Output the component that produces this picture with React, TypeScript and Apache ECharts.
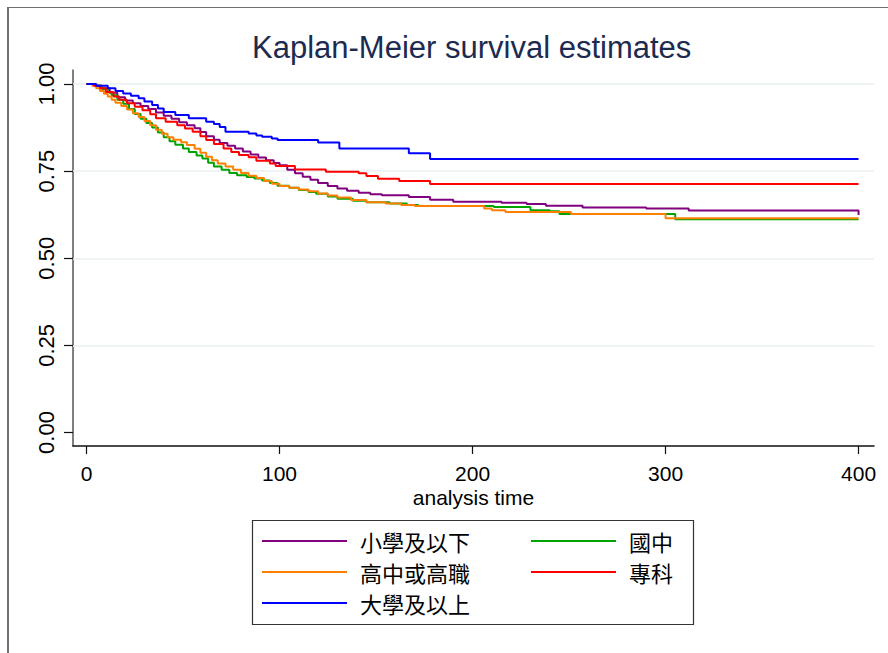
import React, { useEffect, useRef } from "react";
import * as echarts from "echarts";

const chartTitle = "Kaplan-Meier survival estimates";
const xAxisName = "analysis time";
const groupNames = ["小學及以下", "國中", "高中或高職", "專科", "大學及以上"];
const groupColors = ["#800080", "#00a400", "#ff8000", "#ff0000", "#0000ff"];
const legendCol1 = ["小學及以下", "高中或高職", "大學及以上"];
const legendCol2 = ["國中", "專科"];
const xTicks = [0, 100, 200, 300, 400];
const yTicks = [0, 0.25, 0.5, 0.75, 1];
const yGridValues = [0.25, 0.5, 0.75, 1];

// [analysis time, survival estimate]
const primaryOrLess = [
  [0, 1], [4, 0.995], [8, 0.988], [12, 0.975], [16, 0.962], [20, 0.953], [24, 0.945],
  [28, 0.937], [32, 0.928], [36, 0.918], [40, 0.909], [44, 0.9], [48, 0.89], [52, 0.882],
  [56, 0.873], [59, 0.862], [62, 0.85], [66, 0.84], [69, 0.831], [73, 0.823], [77, 0.815],
  [81, 0.806], [85, 0.798], [89, 0.789], [93, 0.781], [97, 0.773], [100, 0.767], [104, 0.754],
  [108, 0.744], [112, 0.734], [116, 0.725], [120, 0.716], [125, 0.707], [130, 0.7],
  [135, 0.694], [141, 0.688], [147, 0.684], [153, 0.681], [167, 0.676], [178, 0.668],
  [190, 0.662], [215, 0.659], [228, 0.656], [238, 0.651], [257, 0.646], [290, 0.643],
  [312, 0.637], [400, 0.624],
];
const juniorHigh = [
  [0, 1], [4, 0.995], [8, 0.986], [11, 0.976], [13, 0.968], [16, 0.955], [19, 0.943],
  [22, 0.928], [25, 0.914], [28, 0.9], [31, 0.888], [34, 0.875], [37, 0.861], [40, 0.847],
  [43, 0.836], [46, 0.826], [50, 0.815], [53, 0.805], [57, 0.795], [60, 0.786], [63, 0.774],
  [66, 0.763], [70, 0.754], [74, 0.745], [78, 0.738], [83, 0.733], [87, 0.729], [91, 0.723],
  [95, 0.716], [99, 0.708], [105, 0.702], [110, 0.696], [115, 0.69], [119, 0.685],
  [125, 0.677], [130, 0.671], [138, 0.665], [145, 0.661], [157, 0.657], [166, 0.653],
  [172, 0.65], [211, 0.647], [230, 0.638], [240, 0.635], [245, 0.627], [305, 0.612],
  [400, 0.612],
];
const seniorHigh = [
  [0, 1], [3, 0.995], [5, 0.988], [7, 0.98], [9, 0.972], [11, 0.964], [13, 0.955],
  [15, 0.946], [18, 0.937], [21, 0.927], [24, 0.916], [27, 0.905], [30, 0.894], [33, 0.882],
  [36, 0.869], [39, 0.857], [42, 0.847], [45, 0.84], [49, 0.833], [52, 0.825], [56, 0.814],
  [59, 0.803], [62, 0.791], [65, 0.781], [68, 0.772], [72, 0.763], [76, 0.754], [80, 0.745],
  [84, 0.737], [88, 0.73], [92, 0.722], [96, 0.714], [100, 0.707], [105, 0.702],
  [110, 0.697], [115, 0.692], [120, 0.686], [125, 0.68], [130, 0.674], [137, 0.667],
  [145, 0.661], [155, 0.657], [163, 0.653], [170, 0.65], [206, 0.643], [210, 0.638],
  [217, 0.633], [251, 0.627], [300, 0.615], [400, 0.615],
];
const juniorCollege = [
  [0, 1], [4, 0.995], [7, 0.988], [10, 0.977], [14, 0.964], [17, 0.955], [21, 0.945],
  [25, 0.935], [29, 0.925], [33, 0.913], [36, 0.902], [41, 0.892], [47, 0.882], [51, 0.872],
  [55, 0.863], [59, 0.85], [62, 0.839], [66, 0.828], [71, 0.815], [75, 0.805], [79, 0.796],
  [84, 0.79], [88, 0.78], [95, 0.772], [98, 0.765], [108, 0.755], [124, 0.748], [141, 0.744],
  [145, 0.736], [151, 0.728], [162, 0.722], [178, 0.713], [400, 0.713],
];
const universityOrAbove = [
  [0, 1], [5, 0.995], [11, 0.988], [15, 0.98], [19, 0.973], [23, 0.966], [27, 0.959],
  [30, 0.95], [34, 0.94], [37, 0.93], [40, 0.92], [46, 0.911], [53, 0.902], [62, 0.892],
  [66, 0.885], [69, 0.877], [72, 0.863], [84, 0.858], [88, 0.852], [91, 0.849], [96, 0.844],
  [99, 0.839], [120, 0.832], [131, 0.815], [167, 0.801], [178, 0.785], [400, 0.785],
];
const groupData = [primaryOrLess, juniorHigh, seniorHigh, juniorCollege, universityOrAbove];

const LATIN = '"Liberation Sans", Arial, sans-serif';
const CJK = '"Noto Sans CJK TC", "Noto Sans CJK SC", sans-serif';
const GRID_COLOR = "#e9f0f3";

export default function App() {
  const ref = useRef<HTMLDivElement>(null);
  useEffect(() => {
    if (!ref.current) return;
    const chart = echarts.init(ref.current, null, { renderer: "svg" });
    const legendBase = {
      orient: "vertical",
      top: 530,
      padding: 0,
      itemGap: 9,
      itemWidth: 85,
      itemHeight: 2,
      icon: "rect",
      selectedMode: false,
      textStyle: {
        fontFamily: CJK,
        fontSize: 22,
        lineHeight: 22,
        color: "#000",
        padding: [0, 0, 0, 8],
      },
    };
    const gridSeries = {
      name: "gridlines",
      type: "line",
      data: [],
      silent: true,
      z: 1,
      markLine: {
        silent: true,
        z: 1,
        symbol: "none",
        label: { show: false },
        lineStyle: { color: GRID_COLOR, width: 1.5, type: "solid" },
        emphasis: { disabled: true },
        data: yGridValues.map((v) => ({ yAxis: v })),
      },
    };
    chart.setOption({
      animation: false,
      backgroundColor: "#ffffff",
      title: {
        text: chartTitle,
        left: 252,
        top: 32,
        padding: 0,
        textStyle: {
          fontFamily: LATIN,
          fontSize: 31,
          fontWeight: "normal",
          color: "#1c2b4f",
        },
      },
      legend: [
        { ...legendBase, left: 262, data: legendCol1 },
        { ...legendBase, left: 531, data: legendCol2 },
      ],
      grid: { left: 73, right: 14, top: 70, bottom: 207, containLabel: false },
      xAxis: {
        type: "value",
        min: -7,
        max: 408,
        name: xAxisName,
        nameLocation: "middle",
        nameGap: 40.5,
        nameMoveOverlap: false,
        nameTextStyle: { fontFamily: LATIN, fontSize: 21, lineHeight: 21, color: "#000" },
        axisLine: { show: true, onZero: false, lineStyle: { color: "#111", width: 1.5 } },
        axisTick: { show: true, length: 8, customValues: xTicks, lineStyle: { color: "#111", width: 1.2 } },
        axisLabel: {
          customValues: xTicks,
          margin: 16.5,
          fontFamily: LATIN,
          fontSize: 21,
          lineHeight: 21,
          color: "#000",
          formatter: (v: number) => String(v),
        },
        splitLine: { show: false },
      },
      yAxis: {
        type: "value",
        min: -0.0387,
        max: 1.0402,
        axisLine: { show: true, onZero: false, lineStyle: { color: "#555", width: 1.5 } },
        axisTick: { show: true, length: 9, customValues: yTicks, lineStyle: { color: "#111", width: 1.2 } },
        axisLabel: {
          customValues: yTicks,
          rotate: 90,
          margin: 16,
          fontFamily: LATIN,
          fontSize: 22,
          color: "#000",
          formatter: (v: number) => v.toFixed(2),
        },
        splitLine: { show: false },
      },
      series: [
        gridSeries,
        ...groupNames.map((name, i) => ({
          name,
          type: "line",
          step: "end",
          data: groupData[i],
          showSymbol: false,
          symbol: "none",
          silent: true,
          z: 3,
          color: groupColors[i],
          lineStyle: { color: groupColors[i], width: 2 },
          emphasis: { disabled: true },
        })),
      ],
      graphic: [
        {
          type: "line",
          shape: { x1: 8, y1: 7.5, x2: 888, y2: 7.5 },
          style: { stroke: "#707070", lineWidth: 1 },
          silent: true,
        },
        {
          type: "line",
          shape: { x1: 8, y1: 7, x2: 8, y2: 653 },
          style: { stroke: "#707070", lineWidth: 2 },
          silent: true,
        },
        {
          type: "rect",
          shape: { x: 252.5, y: 520.5, width: 441, height: 104 },
          style: { fill: "none", stroke: "#333", lineWidth: 1.2 },
          silent: true,
        },
      ],
    });
    return () => chart.dispose();
  }, []);
  return (
    <div
      ref={ref}
      style={{ position: "fixed", left: 0, top: 0, width: 888, height: 653, background: "#fff" }}
    />
  );
}
